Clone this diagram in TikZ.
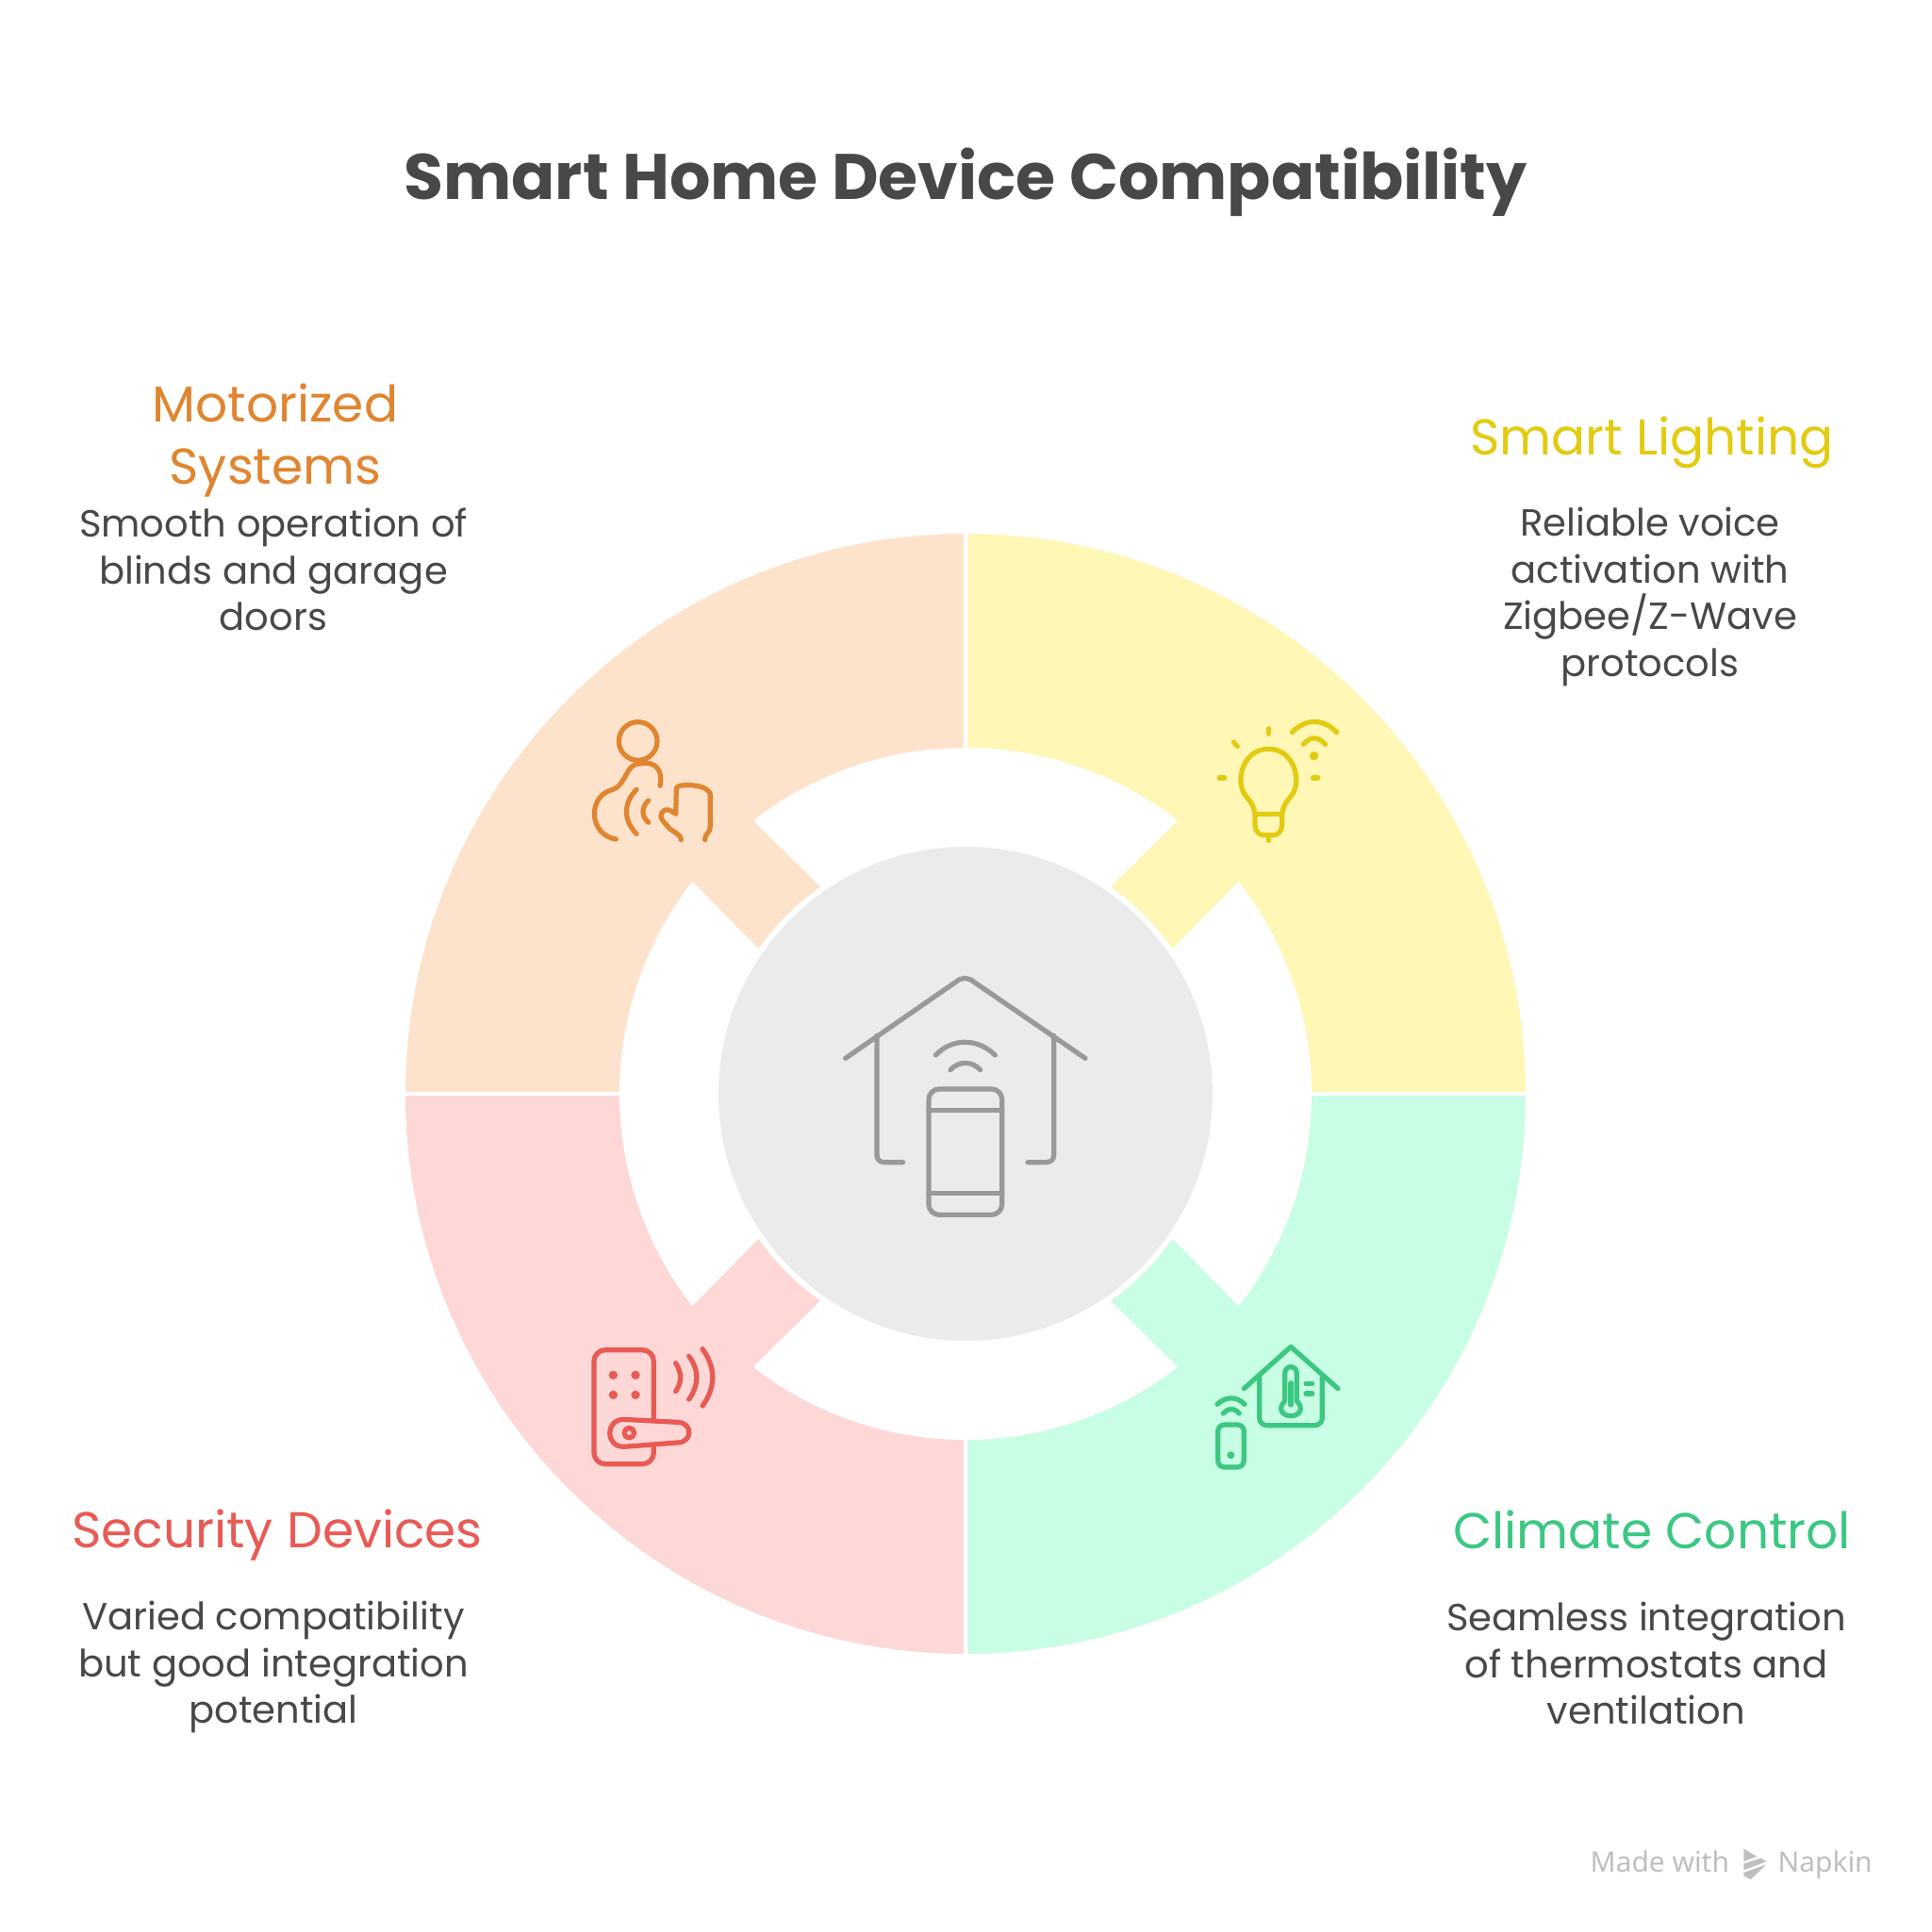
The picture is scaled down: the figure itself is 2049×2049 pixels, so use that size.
\documentclass[tikz,border=0pt]{standalone}
\usepackage{fontspec}
\setmainfont{Poppins}
\newfontfamily\footfont{Noto Sans}
\definecolor{txtgray}{RGB}{72,72,72}
\definecolor{motorfill}{RGB}{254,227,204}
\definecolor{lightfill}{RGB}{254,247,182}
\definecolor{climfill}{RGB}{200,254,227}
\definecolor{secfill}{RGB}{254,215,215}
\definecolor{motorcol}{RGB}{224,133,48}
\definecolor{lightcol}{RGB}{226,203,16}
\definecolor{climcol}{RGB}{60,199,131}
\definecolor{seccol}{RGB}{232,90,84}
\definecolor{hubcol}{RGB}{153,153,153}
\begin{document}
\begin{tikzpicture}[x=0.1mm,y=-0.1mm,
          head/.style={align=center,font=\fontsize{15.2}{19}\selectfont},
          desc/.style={align=center,text=txtgray,font=\fontsize{11.4}{14.1}\selectfont},
          foot/.style={anchor=base west,inner sep=0pt,text=black!25,font=\footfont\fontsize{8.5}{10}\selectfont},
          icon/.style={line width=0.52mm,line cap=round,line join=round}]
        \useasboundingbox (0,0) rectangle (2049,2049);
        \foreach \col/\ang in {lightfill/0,climfill/90,secfill/180,motorfill/270}{
          \begin{scope}[shift={(1024,1160)},yscale=-1,rotate=\ang]
            \filldraw[fill=\col,draw=white,line width=0.4mm,line join=round]
              (90:365) arc[start angle=90,end angle=52.5,radius=365] -- (55.5:266)
              arc[start angle=55.5,end angle=34.5,radius=266] -- (37.5:365)
              arc[start angle=37.5,end angle=0,radius=365] -- (0:596)
              arc[start angle=0,end angle=90,radius=596] -- cycle;
          \end{scope}
        }
        \node[circle,fill=black!8,minimum size=52.4mm,inner sep=0pt] (hub) at (1024,1160) {};
        \node[text=txtgray,font=\fontsize{19.4}{22}\selectfont\bfseries] (title) at (1024,193) {Smart Home Device Compatibility};
        \node[head,text=motorcol] (motor) at (292,467) {Motorized\\Systems};
        \node[desc] (motordesc) at (290,604) {Smooth operation of\\blinds and garage\\doors};
        \node[head,text=lightcol] (light) at (1752,469) {Smart Lighting};
        \node[desc] (lightdesc) at (1750,633) {Reliable voice\\activation with\\Zigbee/Z-Wave\\protocols};
        \node[head,text=seccol] (sec) at (294,1628) {Security Devices};
        \node[desc] (secdesc) at (290,1768) {Varied compatibility\\but good integration\\potential};
        \node[head,text=climcol] (clim) at (1752,1622) {Climate Control};
        \node[desc] (climdesc) at (1746,1764) {Seamless integration\\of thermostats and\\ventilation};
        \begin{scope}[shift={(600,720)},scale=1/3,icon,draw=motorcol]
          \draw (230,198) circle (61);
          \draw (300,340) .. controls (310,290) and (285,268) .. (255,268) -- (230,270) .. controls (190,275) and (190,340) .. (150,352) .. controls (70,370) and (70,495) .. (160,510);
          \draw (225,352) .. controls (183,395) and (183,450) .. (225,493);
          \draw (263,387) .. controls (240,410) and (240,435) .. (263,457);
          \draw (367,512) .. controls (365,490) and (340,490) .. (325,470) .. controls (315,458) and (295,440) .. (305,428) .. controls (318,405) and (335,420) .. (350,430) -- (352,350) .. controls (352,342) and (360,338) .. (390,338) .. controls (425,338) and (460,350) .. (460,370) -- (460,470) .. controls (460,490) and (443,490) .. (443,512);
        \end{scope}
        \begin{scope}[shift={(1260,740)},scale=1/3,icon,draw=lightcol]
          \draw (100,255) -- (116,255);
          \draw (145,141) -- (157,155);
          \draw (256,98) -- (256,115);
          \draw (397,255) -- (413,255);
          \draw (213,370) .. controls (208,335) and (192,325) .. (180,307) .. controls (150,262) and (175,163) .. (256,163) .. controls (337,163) and (362,262) .. (332,307) .. controls (320,325) and (304,335) .. (299,370) -- cycle;
          \draw (213,370) -- (213,405) .. controls (213,425) and (228,437) .. (240,437) -- (272,437) .. controls (285,437) and (299,425) .. (299,405) -- (299,370);
          \draw (256,437) -- (256,455);
          \fill[lightcol] (401,185) circle (14);
          \draw (367,148) .. controls (390,122) and (412,122) .. (437,148);
          \draw (331,110) .. controls (375,65) and (430,65) .. (473,110);
        \end{scope}
        \begin{scope}[shift={(870,1010)},scale=1/3,icon,draw=hubcol]
          \draw (80,337) -- (430,95) .. controls (450,78) and (470,78) .. (490,95) -- (843,337);
          \draw (180,265) -- (180,645) .. controls (180,660) and (190,668) .. (205,668) -- (263,668);
          \draw (743,265) -- (743,645) .. controls (743,660) and (733,668) .. (718,668) -- (660,668);
          \draw (367,327) .. controls (420,272) and (500,272) .. (556,327);
          \draw (414,374) .. controls (440,345) and (483,345) .. (509,374);
          \draw[rounded corners=1.1mm] (345,435) rectangle (578,835);
          \draw (345,502) -- (578,502);
          \draw (345,767) -- (578,767);
        \end{scope}
        \begin{scope}[shift={(610,1410)},scale=1/3,icon,draw=seccol]
          \draw[rounded corners=1.2mm] (250,285) -- (250,65) -- (60,65) -- (60,428) -- (250,428) -- (250,372);
          \foreach \dotx/\doty in {121/145,192/145,121/208,192/208}
            \fill[seccol] (\dotx,\doty) circle (14);
          \draw (155,286) -- (325,295) .. controls (375,295) and (375,360) .. (325,360) -- (155,373) .. controls (95,373) and (95,286) .. (155,286) -- cycle;
          \draw (172,329) circle (16);
          \draw (320,107) .. controls (340,140) and (340,165) .. (320,197);
          \draw (362,85) .. controls (395,130) and (395,175) .. (362,222);
          \draw (405,62) .. controls (448,120) and (448,185) .. (405,243);
        \end{scope}
        \begin{scope}[shift={(1270,1410)},scale=1/3,icon,draw=climcol]
          \draw (148,188) -- (297,55) -- (447,188);
          \draw[rounded corners=0.8mm] (197,150) -- (197,305) -- (397,305) -- (397,150);
          \draw (278,140) .. controls (278,112) and (316,112) .. (316,140) -- (316,228) .. controls (340,250) and (325,275) .. (297,275) .. controls (269,275) and (254,250) .. (278,228) -- cycle;
          \draw (297,170) -- (297,240);
          \draw (345,172) -- (365,172);
          \draw (345,204) -- (365,204);
          \draw (63,238) .. controls (90,212) and (125,212) .. (150,238);
          \draw (82,267) .. controls (100,248) and (115,248) .. (133,267);
          \draw[rounded corners=0.7mm] (65,303) rectangle (148,438);
          \fill[climcol] (106,400) circle (12);
        \end{scope}
        \node[foot] (made) at (1686,1985) {Made with};
        \node[foot] (napkin) at (1885,1985) {Napkin};
        \begin{scope}[shift={(1660,1940)},scale=1/3,black!25]
          \fill (568,62) -- (610,87) -- (568,102) -- cycle;
          \fill (568,110) -- (622,92) -- (640,103) -- (568,130) -- cycle;
          \fill (568,138) -- (640,112) -- (590,160) -- (568,148) -- cycle;
        \end{scope}
      \end{tikzpicture}
\end{document}
